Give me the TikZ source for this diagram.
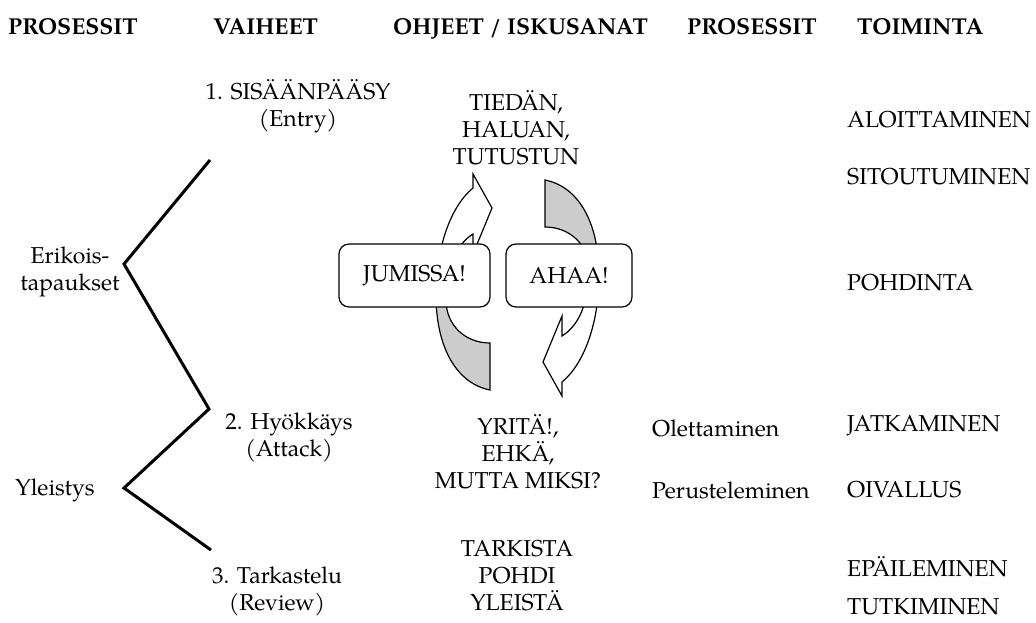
\documentclass[tikz,border=0pt]{standalone}
\usepackage{fontspec}
\setmainfont{TeX Gyre Pagella}
\begin{document}
\begin{tikzpicture}[x=1pt,y=-1pt,
  txt/.style={font=\fontsize{23}{27}\selectfont, inner sep=0pt, align=center},
  ltxt/.style={font=\fontsize{23}{27}\selectfont, inner sep=0pt, anchor=west},
  hdr/.style={font=\fontsize{23}{27}\selectfont\bfseries, inner sep=0pt, anchor=base west},
  box/.style={draw, fill=white, line width=1.2pt, rounded corners=10pt, minimum height=63pt, inner sep=0pt, font=\fontsize{23}{27}\selectfont},
  zig/.style={line width=3pt, line join=miter},
  band/.style={line width=1.2pt, line join=miter}
]
\definecolor{bandgray}{RGB}{204,204,204}
\useasboundingbox[fill=white] (0,0) rectangle (1036,623);

% headers
\node[hdr] (h1) at (8,35) {PROSESSIT};
\node[hdr] (h2) at (213,35) {VAIHEET};
\node[hdr] (h3) at (393,35) {OHJEET / ISKUSANAT};
\node[hdr] (h4) at (687,35) {PROSESSIT};
\node[hdr] (h5) at (857,35) {TOIMINTA};

% phases
\node[txt] (p1) at (298,106) {1. SISÄÄNPÄÄSY\\(Entry)};
\node[txt] (p2) at (289,437) {2. Hyökkäys\\(Attack)};
\node[txt] (p3) at (277,591) {3. Tarkastelu\\(Review)};

% left labels
\node[txt] (erik) at (70,272) {Erikois-\\tapaukset};
\node[txt] (yle) at (55,490) {Yleistys};

% zigzag
\coordinate (z0) at (210,160);
\coordinate (z1) at (124,264);
\coordinate (z2) at (209,409);
\coordinate (z3) at (124,488);
\coordinate (z4) at (211,550);
\draw[zig] (z0) -- (z1) -- (z2) -- (z3) -- (z4);

% keywords
\node[txt] (k1) at (516,128) {TIEDÄN,\\HALUAN,\\TUTUSTUN};
\node[txt] (k2) at (518,452) {YRITÄ!,\\EHKÄ,\\MUTTA MIKSI?};
\node[txt] (k3) at (517,576) {TARKISTA\\POHDI\\YLEISTÄ};

% processes
\node[ltxt] (o1) at (652,428) {Olettaminen};
\node[ltxt] (o2) at (652,490) {Perusteleminen};

% actions
\node[ltxt] (t1) at (847,120) {ALOITTAMINEN};
\node[ltxt] (t2) at (847,177) {SITOUTUMINEN};
\node[ltxt] (t3) at (847,283) {POHDINTA};
\node[ltxt] (t4) at (847,426) {JATKAMINEN};
\node[ltxt] (t5) at (847,490) {OIVALLUS};
\node[ltxt] (t6) at (847,567) {EPÄILEMINEN};
\node[ltxt] (t7) at (847,607) {TUTKIMINEN};

% curved band arrows
\foreach \ang in {0,180}{
\begin{scope}[rotate around={\ang:(517.5,285)}]
  \fill[white] (490,390) .. controls (455,383) and (436,345) .. (436,295) .. controls (436,245) and (452,205) .. (473,188) -- (473,174) -- (492,208) -- (473,254) -- (473,234) .. controls (455,245) and (446,270) .. (446,300) .. controls (446,325) and (465,343) .. (490,343) -- cycle;
  \begin{scope}
    \clip (400,276) rectangle (520,420);
    \fill[bandgray] (490,390) .. controls (455,383) and (436,345) .. (436,295) .. controls (436,245) and (452,205) .. (473,188) -- (473,174) -- (492,208) -- (473,254) -- (473,234) .. controls (455,245) and (446,270) .. (446,300) .. controls (446,325) and (465,343) .. (490,343) -- cycle;
  \end{scope}
  \draw[band] (490,390) .. controls (455,383) and (436,345) .. (436,295) .. controls (436,245) and (452,205) .. (473,188) -- (473,174) -- (492,208) -- (473,254) -- (473,234) .. controls (455,245) and (446,270) .. (446,300) .. controls (446,325) and (465,343) .. (490,343) -- cycle;
\end{scope}
}

% boxes
\node[box, minimum width=151pt] (jum) at (414.5,275.5) {JUMISSA!};
\node[box, minimum width=126pt] (aha) at (569,275.5) {AHAA!};
\end{tikzpicture}
\end{document}
